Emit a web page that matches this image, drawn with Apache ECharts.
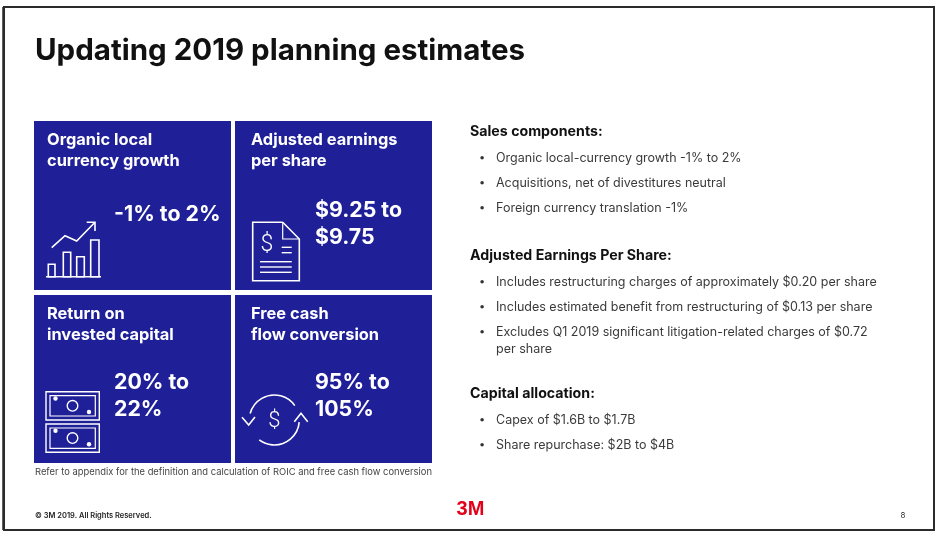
<!DOCTYPE html>
<html>
<head>
<meta charset="utf-8">
<script src="https://cdn.jsdelivr.net/npm/echarts@6/dist/echarts.min.js"></script>
<style>
html,body{margin:0;padding:0;background:#fff;}
#chart{width:944px;height:537px;}
</style>
</head>
<body>
<div id="chart"></div>
<script>
// ---- content ----
const slideTitle = 'Updating 2019 planning estimates';
const tileTitles = [
  ['Organic local', 'currency growth'],
  ['Adjusted earnings', 'per share'],
  ['Return on', 'invested capital'],
  ['Free cash', 'flow conversion']
];
const tileValues = [
  ['-1% to 2%'],
  ['$9.25 to', '$9.75'],
  ['20% to', '22%'],
  ['95% to', '105%']
];
const sectionHeadings = ['Sales components:', 'Adjusted Earnings Per Share:', 'Capital allocation:'];
const salesBullets = [
  ['Organic local-currency growth -1% to 2%'],
  ['Acquisitions, net of divestitures neutral'],
  ['Foreign currency translation -1%']
];
const epsBullets = [
  ['Includes restructuring charges of approximately $0.20 per share'],
  ['Includes estimated benefit from restructuring of $0.13 per share'],
  ['Excludes Q1 2019 significant litigation-related charges of $0.72', 'per share']
];
const capitalBullets = [
  ['Capex of $1.6B to $1.7B'],
  ['Share repurchase: $2B to $4B']
];
const footnote = 'Refer to appendix for the definition and calculation of ROIC and free cash flow conversion';
const copyright = '\u00A9 3M 2019. All Rights Reserved.';
const logoText = '3M';
const pageNumber = '8';

// ---- layout ----
const FONT = 'Inter, "Noto Sans", "Liberation Sans", sans-serif';
const BLUE = '#1f1f98';
const WHITE = '#ffffff';
const tileBoxes = [[34,121,197,169],[235,121,197,169],[34,295,197,168],[235,295,197,168]];
const titleOffsets = [13,16,13,16];
const valueOffsets = [[94],[90,117],[88,115],[88,115]];

const g = [];
function txt(x, y, text, font, fill, align) {
  g.push({type:'text', x:x, y:y, silent:true,
    style:{text:text, font:font, fill:fill, textAlign:align||'left', textVerticalAlign:'middle'}});
}
function line(x1,y1,x2,y2,w,c){
  g.push({type:'line', silent:true, shape:{x1:x1,y1:y1,x2:x2,y2:y2}, style:{stroke:c||WHITE, lineWidth:w||1.6}});
}

// slide frame
g.push({type:'rect', silent:true, shape:{x:4,y:7,width:930,height:523}, style:{fill:'#fff', stroke:'#2b2b2b', lineWidth:2}});
line(3,7,3,530,1.5,'#2b2b2b');

// title
txt(35, 51, slideTitle, 'bold 29.5px ' + FONT, '#111');

// tiles
tileBoxes.forEach(function(b, i){
  g.push({type:'rect', silent:true, shape:{x:b[0],y:b[1],width:b[2],height:b[3]}, style:{fill:BLUE}});
  tileTitles[i].forEach(function(t, k){
    txt(b[0]+titleOffsets[i], b[1]+19+k*21, t, 'bold 16.4px ' + FONT, WHITE);
  });
  tileValues[i].forEach(function(t, k){
    txt(b[0]+80, b[1]+valueOffsets[i][k], t, 'bold 21.3px ' + FONT, WHITE);
  });
});

// icon 1: bar chart with rising arrow
line(46,276.7,101,276.7,1.6);
[[48.3,264.3,6.7],[63.3,252.3,7.4],[76.7,256.7,7.6],[90.7,240,8.3]].forEach(function(r){
  g.push({type:'rect', silent:true, shape:{x:r[0],y:r[1],width:r[2],height:276.7-r[1]}, style:{fill:'none', stroke:WHITE, lineWidth:1.6}});
});
g.push({type:'polyline', silent:true, shape:{points:[[51.7,247.7],[65,235.7],[76.7,241],[94.5,222.8]]}, style:{fill:'none', stroke:WHITE, lineWidth:1.6}});
g.push({type:'polyline', silent:true, shape:{points:[[86.7,222.3],[95,222.3],[95,231]]}, style:{fill:'none', stroke:WHITE, lineWidth:1.6}});

// icon 2: document with dollar
g.push({type:'polyline', silent:true, shape:{points:[[282.7,222.3],[252.7,222.3],[252.7,280.7],[299.3,280.7],[299.3,239],[282.7,222.3]]}, style:{fill:'none', stroke:WHITE, lineWidth:1.6}});
g.push({type:'polyline', silent:true, shape:{points:[[282.7,222.3],[282.7,239],[299.3,239]]}, style:{fill:'none', stroke:WHITE, lineWidth:1.2}});
txt(267, 245, '$', '300 23px Roboto, ' + FONT, WHITE, 'center');
line(281.7,247.3,291.7,247.3,1.4); line(281.7,252.7,291.7,252.7,1.4);
line(260,261.7,291.7,261.7,1.4); line(260,267,291.7,267,1.4); line(260,272.3,291.7,272.3,1.4);

// icon 3: two bank notes
[0, 32.3].forEach(function(dy){
  g.push({type:'rect', silent:true, shape:{x:46,y:391.7+dy,width:53.3,height:28.3}, style:{fill:'none', stroke:WHITE, lineWidth:1.4}});
  g.push({type:'rect', silent:true, shape:{x:50,y:395.7+dy,width:45.3,height:20.3}, style:{fill:'none', stroke:WHITE, lineWidth:1.2}});
  g.push({type:'circle', silent:true, shape:{cx:55.5,cy:398.5+dy,r:2.2}, style:{fill:WHITE}});
  g.push({type:'circle', silent:true, shape:{cx:89,cy:412+dy,r:2.2}, style:{fill:WHITE}});
  g.push({type:'circle', silent:true, shape:{cx:72.5,cy:405.8+dy,r:5.3}, style:{fill:'none', stroke:WHITE, lineWidth:1.4}});
});

// icon 4: cycle with dollar
const d2r = Math.PI/180;
g.push({type:'arc', silent:true, shape:{cx:274.3,cy:420,r:25,startAngle:195*d2r,endAngle:325*d2r,clockwise:true}, style:{fill:'none', stroke:WHITE, lineWidth:1.6}});
g.push({type:'arc', silent:true, shape:{cx:274.3,cy:420,r:25,startAngle:5*d2r,endAngle:127*d2r,clockwise:true}, style:{fill:'none', stroke:WHITE, lineWidth:1.6}});
g.push({type:'polyline', silent:true, shape:{points:[[242,417.3],[248.7,425],[255,417]]}, style:{fill:'none', stroke:WHITE, lineWidth:1.6}});
g.push({type:'polyline', silent:true, shape:{points:[[294.3,421.7],[301,413.3],[307.7,421.7]]}, style:{fill:'none', stroke:WHITE, lineWidth:1.6}});
txt(274.3, 421, '$', '300 22px Roboto, ' + FONT, WHITE, 'center');

// footnote
txt(35, 472, footnote, '9.4px ' + FONT, '#444');

// right column
const headingYs = [132, 256, 394];
const bulletGroups = [salesBullets, epsBullets, capitalBullets];
const bulletYs = [[158,183,208],[282,307,332],[420,445]];
sectionHeadings.forEach(function(h, i){
  txt(470, headingYs[i], h, 'bold 14.2px ' + FONT, '#111');
  bulletGroups[i].forEach(function(lines, k){
    txt(482, bulletYs[i][k], '\u2022', '11px ' + FONT, '#333', 'center');
    lines.forEach(function(l, m){
      txt(496, bulletYs[i][k] + m*17, l, '12.5px ' + FONT, '#3a3a3a');
    });
  });
});

// footer
txt(35, 516, copyright, '600 7.5px ' + FONT, '#222');
txt(470.5, 509, logoText, 'bold 20px "Liberation Sans Narrow", "Liberation Sans", sans-serif', '#e2001a', 'center');
txt(903, 516, pageNumber, '8px ' + FONT, '#333', 'center');

const chart = echarts.init(document.getElementById('chart'), null, {renderer:'canvas'});
chart.setOption({
  backgroundColor:'#ffffff',
  animation:false,
  graphic:{elements:g}
});
</script>
</body>
</html>
